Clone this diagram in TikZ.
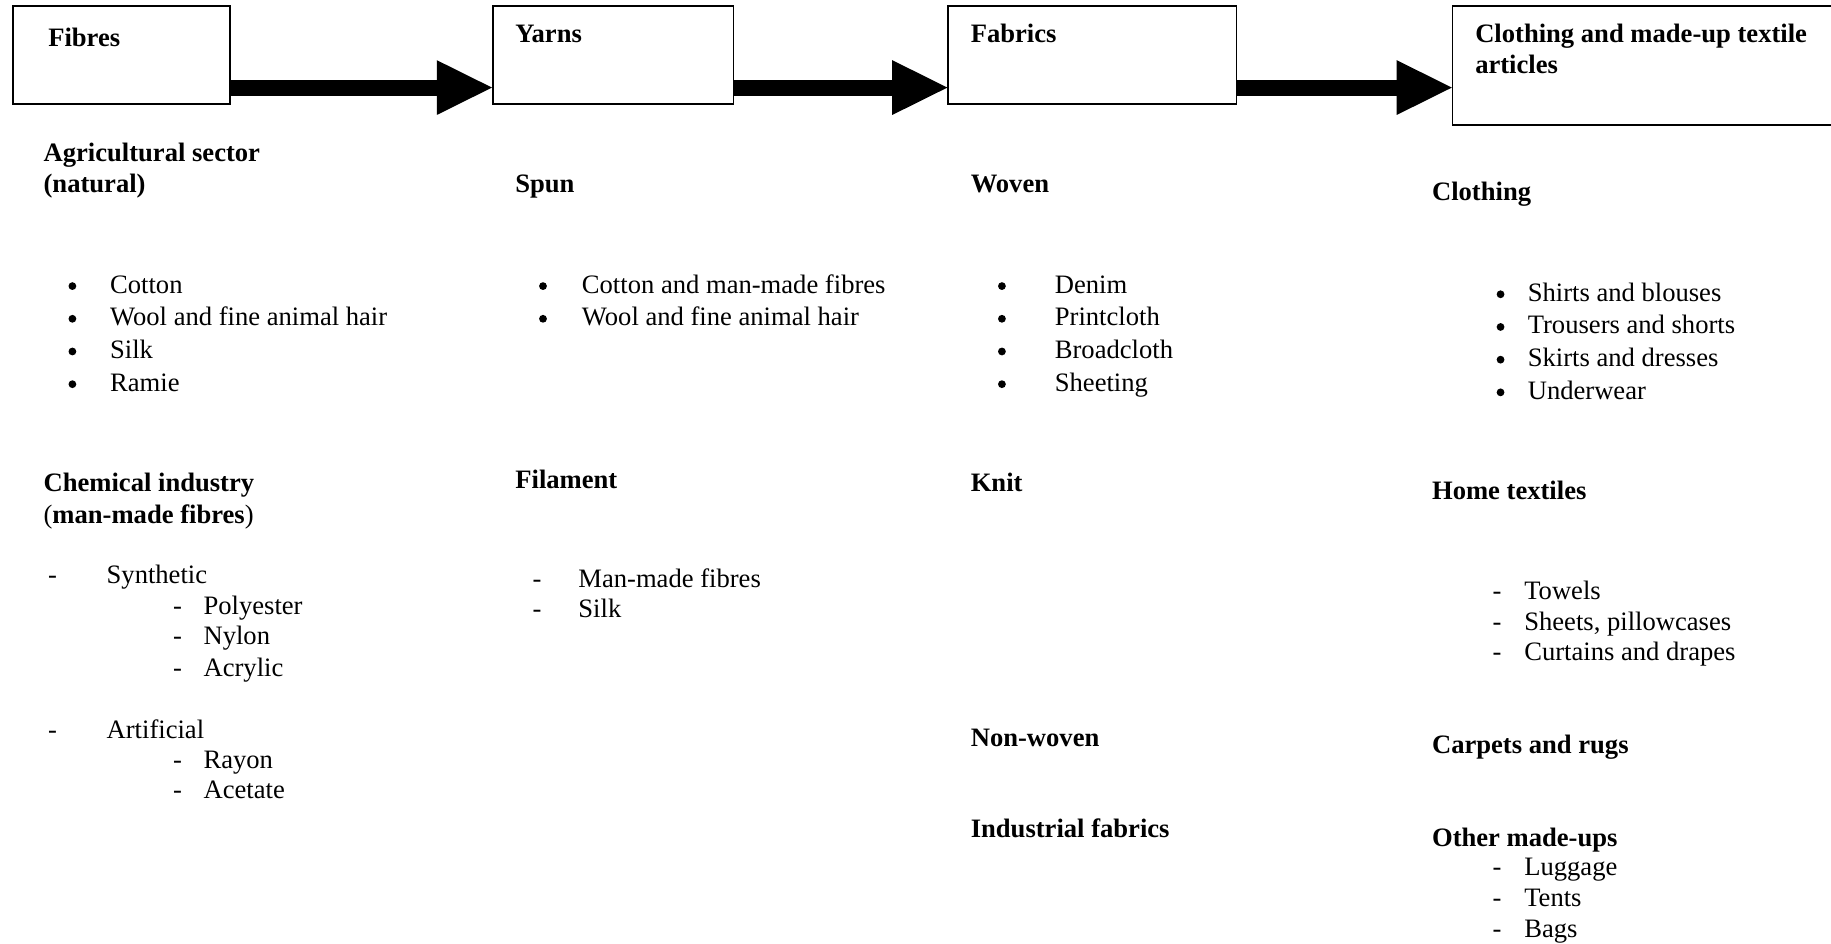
\documentclass[tikz,border=0pt]{standalone}
\usepackage{fontspec}
\setmainfont{Liberation Serif}
\usetikzlibrary{arrows.meta,fit}

\tikzset{
  box/.style = {draw, line width=0.8pt, inner sep=0pt},
  flow/.style = {line width=8pt, -{Triangle[length=27.6pt, width=27.4pt, line width=0pt]}},
  txt/.style = {anchor=base west, inner sep=0pt, font=\fontsize{13.3}{16}\selectfont},
  hd/.style = {txt, font=\fontsize{13.3}{16}\selectfont\bfseries},
  bul/.style = {anchor=base, inner sep=0pt, font=\fontsize{13.3}{16}\selectfont},
  dot/.style = {circle, fill, inner sep=0pt, minimum size=3.9pt},
}

\begin{document}
\begin{tikzpicture}[x=0.5839pt, y=-0.5839pt]
  \useasboundingbox (0,0) rectangle (1568,808);

  % stages
  \node [box, fit={(11,5) (197,89)}] (fibres) {};
  \node [box, fit={(422,5) (628,89)}] (yarns) {};
  \node [box, fit={(812,5) (1059,89)}] (fabrics) {};
  \node [box, fit={(1244,5) (1574,107)}] (clothing) {};
  \node [hd] (fibrestxt) at (41,40) {Fibres};
  \node [hd] (yarnstxt) at (441,36) {Yarns};
  \node [hd] (fabricstxt) at (831,36) {Fabrics};
  \node [hd] (clothingtxt) at (1263,36) {Clothing and made-up textile};
  \node [hd] (clothingtxtb) at (1263,63) {articles};

  % block arrows
  \coordinate (axis) at (0,75);
  \draw [flow] (fibres.east |- axis) -- (yarns.west |- axis);
  \draw [flow] (yarns.east |- axis) -- (fabrics.west |- axis);
  \draw [flow] (fabrics.east |- axis) -- (clothing.west |- axis);

  % fibres column
  \node [hd] (agri) at (37,138) {Agricultural sector};
  \node [hd] (agrib) at (37,165) {(natural)};
  \node [dot] (b11) at (62,245) {};
  \node [dot] (b12) at (62,273) {};
  \node [dot] (b13) at (62,301) {};
  \node [dot] (b14) at (62,329) {};
  \node [txt] (cotton) at (94,251) {Cotton};
  \node [txt] (wool) at (94,279) {Wool and fine animal hair};
  \node [txt] (silk) at (94,307) {Silk};
  \node [txt] (ramie) at (94,335) {Ramie};
  \node [hd] (chem) at (37,421) {Chemical industry};
  \node [txt] (chemb) at (37,448) {(\textbf{man-made fibres})};
  \node [bul] (d11) at (45,500) {-};
  \node [txt] (synth) at (91,500) {Synthetic};
  \node [bul] (d12) at (152,526) {-};
  \node [bul] (d13) at (152,552) {-};
  \node [bul] (d14) at (152,579) {-};
  \node [txt] (poly) at (174,526) {Polyester};
  \node [txt] (nylon) at (174,552) {Nylon};
  \node [txt] (acryl) at (174,579) {Acrylic};
  \node [bul] (d15) at (45,632) {-};
  \node [txt] (artif) at (91,632) {Artificial};
  \node [bul] (d16) at (152,658) {-};
  \node [bul] (d17) at (152,684) {-};
  \node [txt] (rayon) at (174,658) {Rayon};
  \node [txt] (acet) at (174,684) {Acetate};

  % yarns column
  \node [hd] (spun) at (441,165) {Spun};
  \node [dot] (b21) at (465,245) {};
  \node [dot] (b22) at (465,273) {};
  \node [txt] (cotmm) at (498,251) {Cotton and man-made fibres};
  \node [txt] (wool2) at (498,279) {Wool and fine animal hair};
  \node [hd] (filam) at (441,418) {Filament};
  \node [bul] (d21) at (460,503) {-};
  \node [bul] (d22) at (460,529) {-};
  \node [txt] (mmf) at (495,503) {Man-made fibres};
  \node [txt] (silk2) at (495,529) {Silk};

  % fabrics column
  \node [hd] (woven) at (831,165) {Woven};
  \node [dot] (b31) at (858,245) {};
  \node [dot] (b32) at (858,273) {};
  \node [dot] (b33) at (858,301) {};
  \node [dot] (b34) at (858,329) {};
  \node [txt] (denim) at (903,251) {Denim};
  \node [txt] (print) at (903,279) {Printcloth};
  \node [txt] (broad) at (903,307) {Broadcloth};
  \node [txt] (sheet) at (903,335) {Sheeting};
  \node [hd] (knit) at (831,421) {Knit};
  \node [hd] (nonwov) at (831,639) {Non-woven};
  \node [hd] (indus) at (831,717) {Industrial fabrics};

  % clothing column
  \node [hd] (cloth) at (1226,172) {Clothing};
  \node [dot] (b41) at (1285,252) {};
  \node [dot] (b42) at (1285,280) {};
  \node [dot] (b43) at (1285,308) {};
  \node [dot] (b44) at (1285,336) {};
  \node [txt] (shirts) at (1308,258) {Shirts and blouses};
  \node [txt] (trous) at (1308,286) {Trousers and shorts};
  \node [txt] (skirts) at (1308,314) {Skirts and dresses};
  \node [txt] (under) at (1308,342) {Underwear};
  \node [hd] (home) at (1226,428) {Home textiles};
  \node [bul] (d41) at (1282,513) {-};
  \node [bul] (d42) at (1282,540) {-};
  \node [bul] (d43) at (1282,566) {-};
  \node [txt] (towels) at (1305,513) {Towels};
  \node [txt] (sheets) at (1305,540) {Sheets, pillowcases};
  \node [txt] (curt) at (1305,566) {Curtains and drapes};
  \node [hd] (carpet) at (1226,645) {Carpets and rugs};
  \node [hd] (other) at (1226,725) {Other made-ups};
  \node [bul] (d44) at (1282,750) {-};
  \node [bul] (d45) at (1282,776) {-};
  \node [bul] (d46) at (1282,803) {-};
  \node [txt] (lugg) at (1305,750) {Luggage};
  \node [txt] (tents) at (1305,776) {Tents};
  \node [txt] (bags) at (1305,803) {Bags};
\end{tikzpicture}
\end{document}
